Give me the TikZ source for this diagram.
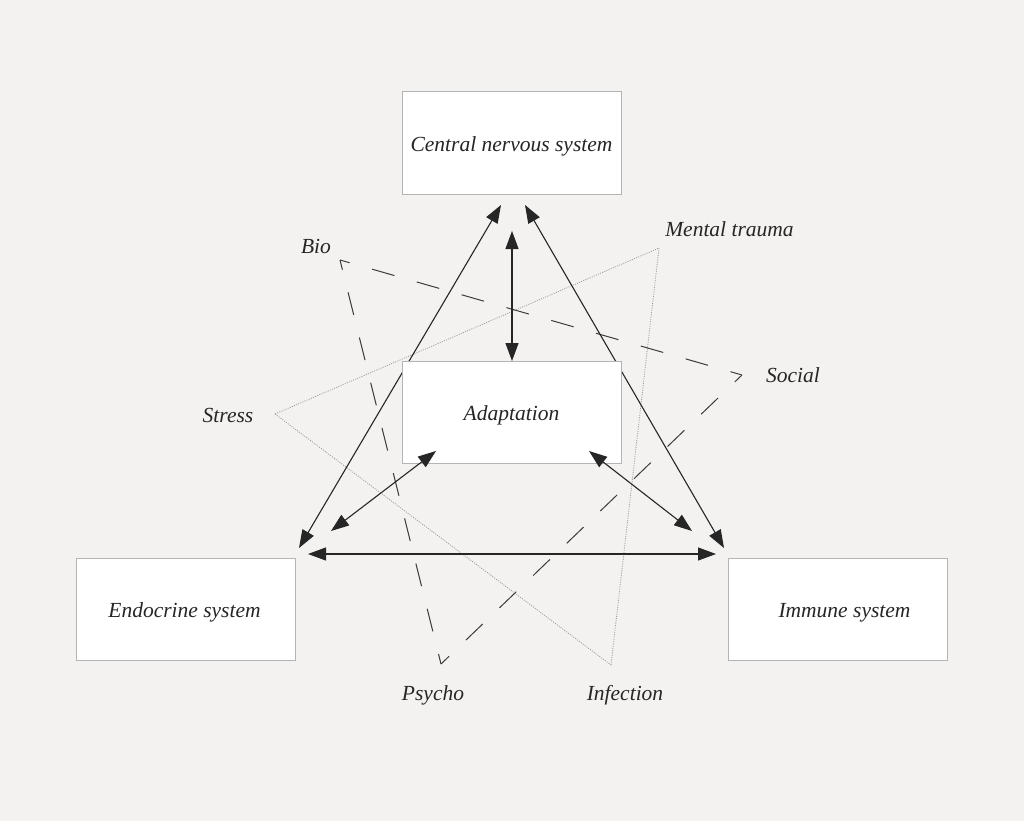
\documentclass[tikz,border=0pt]{standalone}
\usepackage{fontspec}
\setmainfont{Liberation Serif}
\usetikzlibrary{arrows.meta}
\definecolor{bg}{HTML}{F3F2F0}
\definecolor{boxline}{HTML}{B4B4B4}
\definecolor{ink}{HTML}{262626}
\definecolor{dotc}{HTML}{9A9A9A}
\tikzset{
  sysbox/.style={draw=boxline, line width=1pt, fill=white, minimum width=219pt, minimum height=102pt, inner sep=0pt, text height=17.4pt, text depth=0pt, font=\fontsize{21.5}{24}\selectfont\itshape, text=ink},
  lbl/.style={font=\fontsize{21.5}{24}\selectfont\itshape, text=ink, inner sep=0pt, text height=17.4pt, text depth=0pt},
  tip/.tip={Triangle[length=18pt,width=13pt]},
  darr/.style={draw=ink, line width=1.1pt, tip-tip},
  dashline/.style={draw=ink!90, line width=1pt, dash pattern=on 23.3pt off 23.3pt, dash phase=13.3pt},
  dotline/.style={draw=dotc, line width=0.8pt, dash pattern=on 1pt off 1.3pt}
}
\begin{document}
\begin{tikzpicture}[x=1pt,y=-1pt]
\fill[bg] (0,0) rectangle (1024,821);
\useasboundingbox (0,0) rectangle (1024,821);
% triangle vertices
\coordinate (bio) at (340,260);
\coordinate (social) at (742,375);
\coordinate (psycho) at (441,664);
\coordinate (mental) at (659,248);
\coordinate (stress) at (275,414);
\coordinate (infect) at (611,665);
% arrow end points
\coordinate (cnsL) at (501,205);
\coordinate (cnsR) at (525,205);
\coordinate (endT) at (299,548);
\coordinate (immT) at (724,548);
\coordinate (vTop) at (512,231);
\coordinate (vBot) at (512,361);
\coordinate (adL) at (436,451);
\coordinate (adR) at (589,451);
\coordinate (endR) at (331,531);
\coordinate (immL) at (692,531);
\coordinate (hL) at (308,554);
\coordinate (hR) at (716,554);
% dotted triangle
\draw[dotline] (stress) -- (mental);
\draw[dotline] (mental) -- (infect);
\draw[dotline] (stress) -- (infect);
% dashed triangle
\draw[dashline] (bio) -- (social);
\draw[dashline] (bio) -- (psycho);
\draw[dashline] (social) -- (psycho);
% long arrows (under adaptation box)
\draw[darr] (endT) -- (cnsL);
\draw[darr] (immT) -- (cnsR);
% boxes
\node[sysbox] (cns) at (511.5,143) {Central nervous system};
\node[sysbox] (adapt) at (511.5,412) {Adaptation};
\node[sysbox] (endo) at (186,609) {\hspace*{-3pt}Endocrine system};
\node[sysbox] (immune) at (837.5,609) {\hspace*{14pt}Immune system};
% other arrows
\draw[darr] (vBot) -- (vTop);
\draw[darr] (endR) -- (adL);
\draw[darr] (immL) -- (adR);
\draw[darr] (hL) -- (hR);
% labels
\node[lbl] (tbio) at (316,245) {Bio};
\node[lbl] (tmental) at (729.5,228) {Mental trauma};
\node[lbl] (tsocial) at (793,374) {Social};
\node[lbl] (tstress) at (228,414) {Stress};
\node[lbl] (tpsycho) at (433,692) {Psycho};
\node[lbl] (tinfect) at (625,692) {Infection};
\end{tikzpicture}
\end{document}
